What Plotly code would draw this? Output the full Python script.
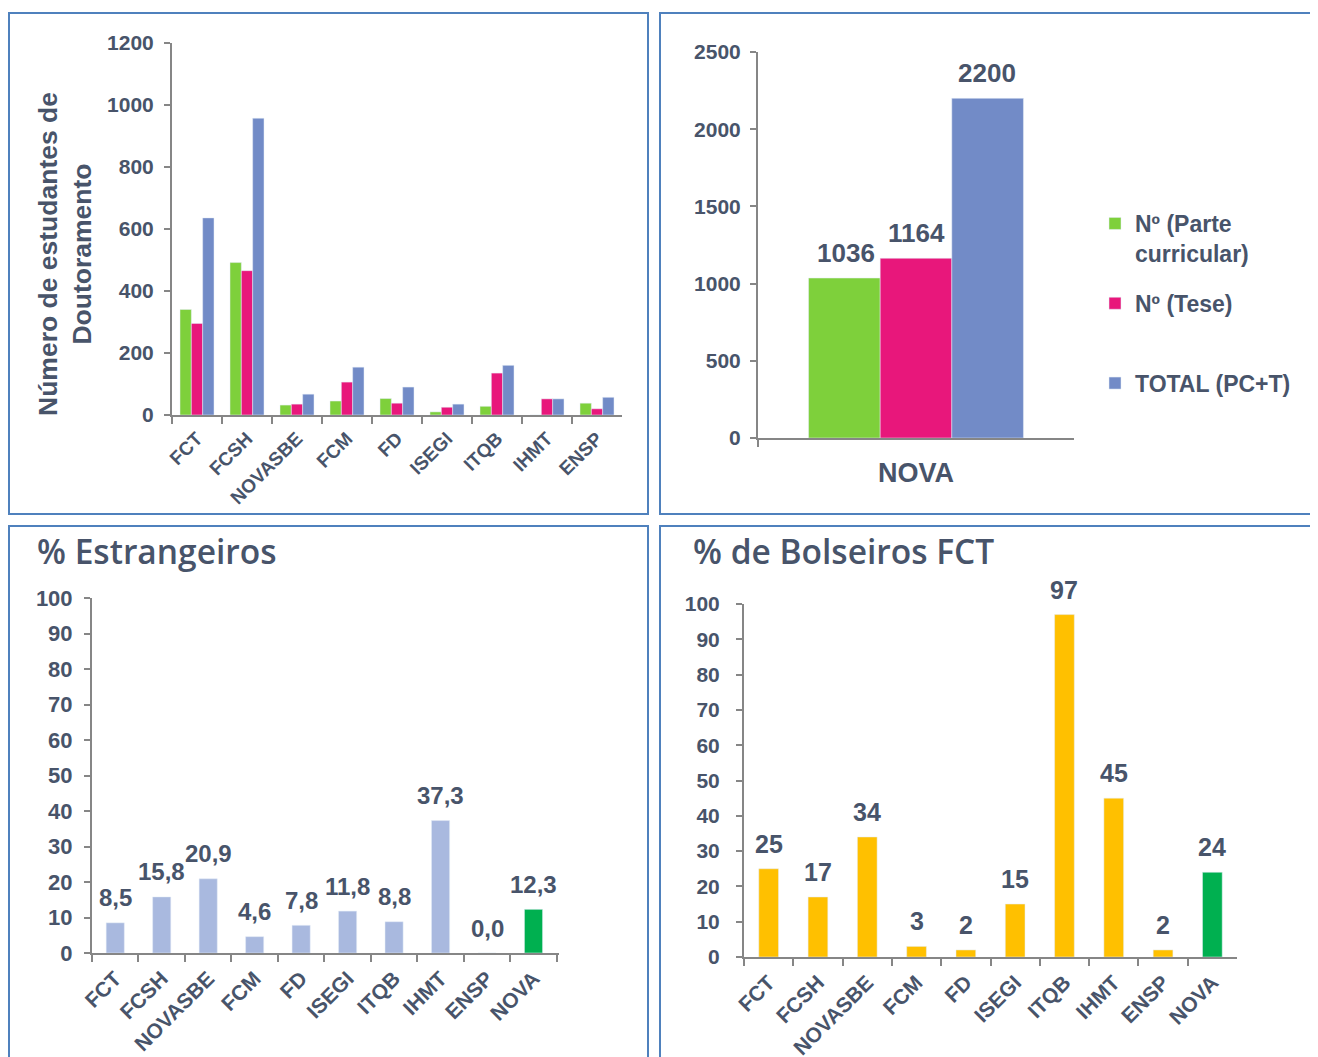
import plotly.graph_objects as go

# ---- dados ----
unidades = ["FCT", "FCSH", "NOVASBE", "FCM", "FD", "ISEGI", "ITQB", "IHMT", "ENSP"]
parte_curricular = [340, 491, 32, 45, 53, 10, 28, 0, 38]
tese = [295, 465, 35, 106, 38, 25, 135, 52, 20]
total = [635, 956, 67, 154, 90, 35, 160, 52, 57]

nova_series = ["Nº (Parte<br>curricular)", "Nº (Tese)<br>\u00a0", "TOTAL (PC+T)"]
nova_valores = [1036, 1164, 2200]

unidades_nova = ["FCT", "FCSH", "NOVASBE", "FCM", "FD", "ISEGI", "ITQB", "IHMT", "ENSP", "NOVA"]
estrangeiros = [8.5, 15.8, 20.9, 4.6, 7.8, 11.8, 8.8, 37.3, 0.0, 12.3]
bolseiros = [25, 17, 34, 3, 2, 15, 97, 45, 2, 24]

cores = ["#7ED03B", "#E8177B", "#728BC7"]
TXT = "#48546A"
AXL = "#868686"
FONT = "Liberation Sans, Arial, sans-serif"
W, H = 1318, 1057
OFF = 8  # margem do body da pagina


def fx(x):
    return (x - OFF) / W


def fy(y):
    return 1 - (y - OFF) / H


def fmt(v):
    return f"{v:.1f}".replace(".", ",")


def rotulo(x, y, txt, eixo, size, dx=0):
    # rotulo de valor por cima da barra
    fig.add_annotation(x=x, y=y, xref=eixo[0], yref=eixo[1], text=txt,
                       showarrow=False, yanchor="middle", yshift=25, xshift=dx,
                       font=dict(size=size, color=TXT, family=FONT, weight="bold"))


fig = go.Figure()

# grafico 1 - numero de estudantes por unidade
for nome, vals, cor in zip(nova_series, [parte_curricular, tese, total], cores):
    fig.add_trace(go.Bar(x=unidades, y=vals, marker_color=cor, name=nome,
                         showlegend=False, xaxis="x", yaxis="y"))

# grafico 2 - NOVA total
for i, (nome, val, cor) in enumerate(zip(nova_series, nova_valores, cores)):
    fig.add_trace(go.Bar(x=["NOVA"], y=[val], marker_color=cor, name=nome,
                         legendgroup=str(i), xaxis="x2", yaxis="y2"))
    rotulo("NOVA", val, str(val), ("x2", "y2"), 26, dx=(i - 1) * 70.5)

# grafico 3 - % estrangeiros
cores3 = ["#A9B9DF"] * (len(unidades_nova) - 1) + ["#00B050"]
fig.add_trace(go.Bar(x=unidades_nova, y=estrangeiros, marker_color=cores3, width=0.39,
                     showlegend=False, xaxis="x3", yaxis="y3"))
for u, v in zip(unidades_nova, estrangeiros):
    rotulo(u, v, fmt(v), ("x3", "y3"), 24)

# grafico 4 - % bolseiros FCT
cores4 = ["#FFC000"] * (len(unidades_nova) - 1) + ["#00B050"]
fig.add_trace(go.Bar(x=unidades_nova, y=bolseiros, marker_color=cores4, width=0.4,
                     showlegend=False, xaxis="x4", yaxis="y4"))
for u, v in zip(unidades_nova, bolseiros):
    rotulo(u, v, str(v), ("x4", "y4"), 25)


def px(x0, x1):
    return [fx(x0), fx(x1)]


def py(top, bottom):
    return [fy(bottom), fy(top)]


def tf(size):
    return dict(size=size, color=TXT, family=FONT, weight="bold")


eixo_x = dict(showline=True, linecolor=AXL, linewidth=2, ticks="outside",
              tickson="boundaries", ticklen=7, tickcolor=AXL, tickwidth=2,
              tickangle=-45, showgrid=False, automargin=False, ticklabelstandoff=3,
              tickfont=tf(19))
eixo_y = dict(showline=True, linecolor=AXL, linewidth=2, ticks="outside",
              ticklen=6, tickcolor=AXL, tickwidth=2, showgrid=False, zeroline=False,
              automargin=False, ticklabelstandoff=6, tickfont=tf(21))

fig.update_layout(
    width=W, height=H,
    margin=dict(l=0, r=0, t=0, b=0, autoexpand=False),
    paper_bgcolor="white",
    plot_bgcolor="white",
    barmode="group",
    bargap=0.32,
    bargroupgap=0,
    xaxis=dict(eixo_x, domain=px(172, 622), anchor="y"),
    yaxis=dict(eixo_y, domain=py(42.5, 415), anchor="x", range=[0, 1200], dtick=200),
    xaxis2=dict(eixo_x, domain=px(758, 1074), anchor="y2", tickangle=0,
                ticklabelstandoff=10, tickfont=tf(27)),
    yaxis2=dict(eixo_y, domain=py(52, 438), anchor="x2", range=[0, 2500], dtick=500,
                ticklabelstandoff=5),
    xaxis3=dict(eixo_x, domain=px(92, 559), anchor="y3", tickfont=tf(21)),
    yaxis3=dict(eixo_y, domain=py(598, 953), anchor="x3", range=[0, 100], dtick=10,
                ticklabelstandoff=7, tickfont=tf(22)),
    xaxis4=dict(eixo_x, domain=px(744, 1237), anchor="y4", tickfont=tf(21)),
    yaxis4=dict(eixo_y, domain=py(604, 957), anchor="x4", range=[0, 100], dtick=10,
                ticklabelstandoff=12),
    legend=dict(x=fx(1095), y=fy(202), xanchor="left", yanchor="top",
                font=tf(23), valign="top", tracegroupgap=17,
                bgcolor="rgba(0,0,0,0)", itemwidth=30),
    showlegend=True,
)

# molduras dos quatro paineis
for x0, y0, x1, y1 in [(9, 13, 648, 514), (660, 13, 1340, 514),
                       (9, 526, 648, 1080), (660, 526, 1340, 1080)]:
    fig.add_shape(type="rect", xref="paper", yref="paper",
                  x0=fx(x0), x1=fx(x1), y0=fy(y1), y1=fy(y0),
                  line=dict(color="#4F81BD", width=2), fillcolor="rgba(0,0,0,0)")

fig.add_annotation(x=fx(65), y=fy(254), xref="paper", yref="paper",
                   xanchor="center", yanchor="middle",
                   text="Número de estudantes de<br>Doutoramento", textangle=-90,
                   showarrow=False, font=tf(26.5))

for txt, xx in [("% Estrangeiros", 35), ("% de Bolseiros FCT", 691)]:
    fig.add_annotation(x=fx(xx), y=fy(551), xref="paper", yref="paper",
                       text=txt, xanchor="left", yanchor="middle", showarrow=False,
                       font=dict(size=33.5, color=TXT, family="Open Sans", weight=600))

fig.write_html("out.html")
